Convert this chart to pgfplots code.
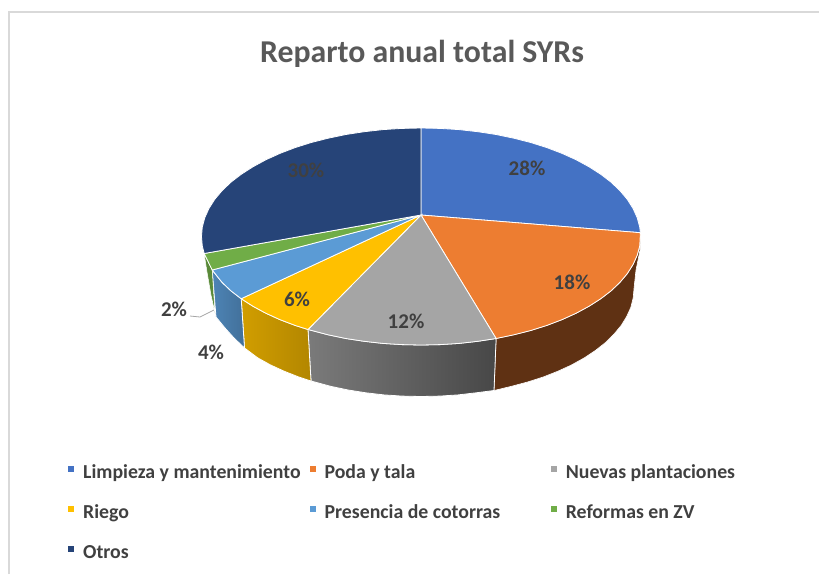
\documentclass[border=0pt]{standalone}
\usepackage{pgfplots}
\pgfplotsset{compat=1.18}
\usepackage{fontspec}
\setmainfont{Carlito}
\definecolor{cA}{HTML}{4472C4}
\definecolor{cB}{HTML}{ED7D31}
\definecolor{cC}{HTML}{A5A5A5}
\definecolor{cD}{HTML}{FFC000}
\definecolor{cE}{HTML}{5B9BD5}
\definecolor{cF}{HTML}{70AD47}
\definecolor{cG}{HTML}{264478}
\definecolor{cBs}{HTML}{5F3113}
\definecolor{txt}{HTML}{404040}
\begin{document}
\begin{tikzpicture}
\begin{axis}[
  scale only axis, width=819pt, height=574pt,
  xmin=0, xmax=819, ymin=0, ymax=574, y dir=reverse,
  axis lines=none, clip=true,
  title={\bfseries Reparto anual total SYRs},
  title style={at={(axis cs:422,60)}, anchor=center, font=\fontsize{31.8}{34}\selectfont, text=black!65},
  legend columns=3,
  legend cell align=left,
  legend style={draw=none, fill=none, at={(axis cs:68,464.5)}, anchor=north west,
    font=\fontsize{19.8}{22}\selectfont\bfseries, text=txt,
    row sep=22pt, inner sep=0pt,
    /tikz/column 1/.style={column sep=9pt},
    /tikz/column 2/.style={column sep=9pt},
    /tikz/column 3/.style={column sep=9pt},
    /tikz/column 4/.style={column sep=50.5pt},
    /tikz/column 5/.style={column sep=9pt},
    nodes={text height=14pt, text depth=4pt, inner sep=0pt}},
  legend image code/.code={\fill[#1, draw=none] (0pt,1.5pt) rectangle (6pt,7.5pt);},
]
% frame
\addplot[forget plot, draw=black!15, line width=1.6pt] coordinates {(9,574)(9,12)(819,12)};
% sides
\addplot[forget plot, fill=cBs, draw=white, line width=0.6pt] coordinates {
(640.4,240)(639.7,246)(637.2,255.3)(633,264.6)(627.3,273.6)(619.9,282.4)(611.1,290.8)(600.8,298.7)(589.1,306.2)(576.2,313.2)(562.1,319.6)(546.9,325.4)(530.75,330.5)(513.8,334.8)(496.1,338.5)
(494,390.5)(511,386.4)(527.5,382)(543.2,377)(557.9,371.2)(571.6,364.9)(584.2,357.9)(595.5,350.4)(605.5,342.5)(614,334.1)(621.2,325.4)(626.7,316.5)(630.8,307.3)(633.2,297.9)(634,288.5)(636,270)(640,250)} --cycle;
\addplot[forget plot, left color=black!52, right color=black!72, draw=white, line width=0.8pt] coordinates {
(496.1,338.5)(477.8,341.3)(459.1,343.4)(440.1,344.6)(421,345)(401.9,344.6)(382.9,343.4)(364.2,341.3)(345.9,338.5)(328.2,334.8)(308,329.5)
(311,381)(331,386.4)(348.2,390)(365.9,392.8)(384,394.9)(402.4,396.1)(421,396.5)(439.6,396.1)(458,394.9)(476.1,392.8)(494,390.5)} --cycle;
\addplot[forget plot, left color=cD!82!black, right color=cD!70!black, draw=white, line width=0.8pt] coordinates {
(308,329.5)(295.1,325.4)(279.9,319.6)(265.8,313.2)(252.9,306.2)(241.2,298.7)
(244.5,348)(257.8,357.9)(270.4,364.9)(284.1,371.2)(298.8,377)(311,381)} --cycle;
\addplot[forget plot, left color=cE!85!black, right color=cE!72!black, draw=white, line width=0.8pt] coordinates {
(241.2,298.7)(230.9,290.8)(222.1,282.4)(212.2,270)
(216,317)(225,328)(234,338)(244.5,348)} --cycle;
\addplot[forget plot, fill=cF!80!black, draw=white, line width=0.5pt] coordinates {
(212.2,270)(204.2,254)(207,272)(211,295)(215,313)} --cycle;
% top slices
\addplot[fill=cA, draw=white, line width=0.8pt] coordinates {
(421,215)(421,128)(440.1,128.4)(459.1,129.6)(477.8,131.7)(496.1,134.5)(513.8,138.2)(530.75,142.5)(546.9,147.6)(562.1,153.4)(576.2,159.8)(589.1,166.8)(600.8,174.3)(611.1,182.2)(619.9,190.6)(627.3,199.4)(633,208.4)(637.2,217.7)(639.7,227)(640.4,232.7)} --cycle;
\addlegendentry{Limpieza y mantenimiento}
\addplot[fill=cB, draw=white, line width=0.8pt] coordinates {
(421,215)(640.4,232.7)(639.7,246)(637.2,255.3)(633,264.6)(627.3,273.6)(619.9,282.4)(611.1,290.8)(600.8,298.7)(589.1,306.2)(576.2,313.2)(562.1,319.6)(546.9,325.4)(530.75,330.5)(513.8,334.8)(496.1,338.5)} --cycle;
\addlegendentry{Poda y tala}
\addplot[fill=cC, draw=white, line width=0.8pt] coordinates {
(421,215)(496.1,338.5)(477.8,341.3)(459.1,343.4)(440.1,344.6)(421,345)(401.9,344.6)(382.9,343.4)(364.2,341.3)(345.9,338.5)(328.2,334.8)(308,329.5)} --cycle;
\addlegendentry{Nuevas plantaciones}
\addplot[fill=cD, draw=white, line width=0.8pt] coordinates {
(421,215)(308,329.5)(295.1,325.4)(279.9,319.6)(265.8,313.2)(252.9,306.2)(241.2,298.7)} --cycle;
\addlegendentry{Riego}
\addplot[fill=cE, draw=white, line width=0.8pt] coordinates {
(421,215)(241.2,298.7)(230.9,290.8)(222.1,282.4)(212.2,270)} --cycle;
\addlegendentry{Presencia de cotorras}
\addplot[fill=cF, draw=white, line width=0.8pt] coordinates {
(421,215)(212.2,270)(204.2,253.5)} --cycle;
\addlegendentry{Reformas en ZV}
\addplot[fill=cG, draw=white, line width=0.8pt] coordinates {
(421,215)(204.2,253.5)(202.3,246)(201.5,236.5)(202.3,227)(204.8,217.7)(209,208.4)(214.7,199.4)(222.1,190.6)(230.9,182.2)(241.2,174.3)(252.9,166.8)(265.8,159.8)(279.9,153.4)(295.1,147.6)(311.25,142.5)(328.2,138.2)(345.9,134.5)(364.2,131.7)(382.9,129.6)(401.9,128.4)(421,128)} --cycle;
\addlegendentry{Otros}
% leader
\addplot[forget plot, draw=black!35, line width=0.8pt] coordinates {(190,316)(200,317)(214,310)};
% labels
\begin{scope}[every node/.style={font=\fontsize{21}{23}\selectfont\bfseries, text=txt, anchor=center, inner sep=0pt}]
\node at (axis cs:527,168) {28\%};
\node at (axis cs:572,282) {18\%};
\node at (axis cs:406,321) {12\%};
\node at (axis cs:297,299) {6\%};
\node at (axis cs:211,352) {4\%};
\node at (axis cs:174,309) {2\%};
\node at (axis cs:306,170) {30\%};
\end{scope}
\end{axis}
\useasboundingbox (0,0) rectangle (819pt,574pt);
\end{tikzpicture}
\end{document}
